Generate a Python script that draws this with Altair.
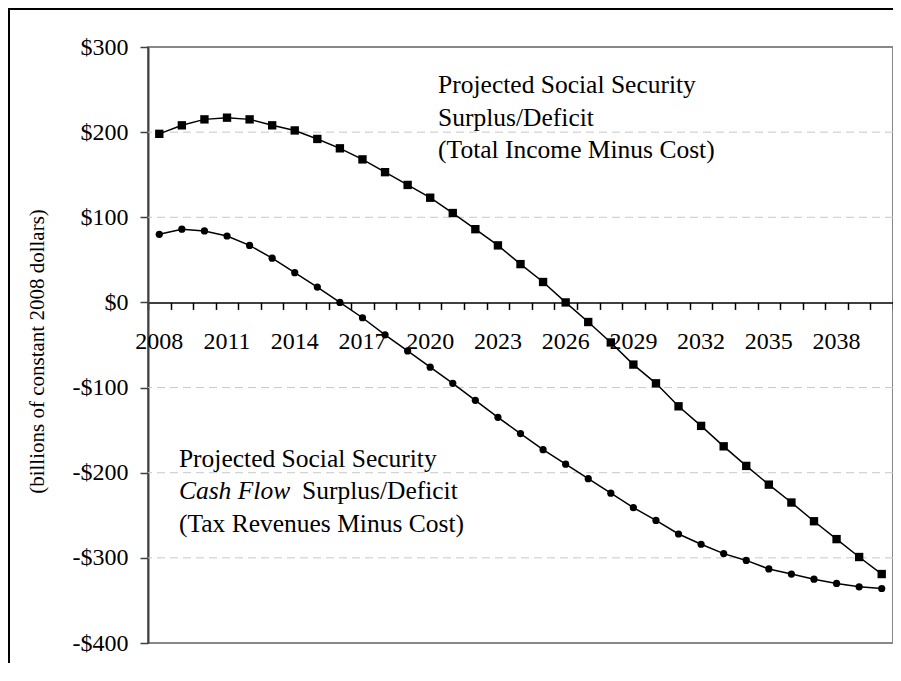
import altair as alt
import pandas as pd

# ---------------- data ----------------
years = list(range(2008, 2041))
total_income_minus_cost = [198, 208, 215, 217, 215, 208, 202, 192, 181, 168, 153,
                           138, 123, 105, 86, 67, 45, 24, 0, -23, -47, -73, -95,
                           -122, -145, -169, -192, -214, -235, -257, -278, -299, -319]
tax_revenues_minus_cost = [80, 86, 84, 78, 67, 52, 35, 18, 0, -18, -38, -57, -76,
                           -95, -115, -135, -154, -173, -190, -207, -224, -241, -256,
                           -272, -284, -295, -303, -313, -319, -325, -330, -334, -336]
y_ticks = [300, 200, 100, 0, -100, -200, -300, -400]
grid_values = [200, 100, -100, -200, -300]
x_label_years = [2008, 2011, 2014, 2017, 2020, 2023, 2026, 2029, 2032, 2035, 2038]
y_title = "(billions of constant 2008 dollars)"

upper_note = ["Projected Social Security", "Surplus/Deficit", "(Total Income Minus Cost)"]
lower_note_1 = "Projected Social Security"
lower_note_2_italic = "Cash Flow"
lower_note_2_rest = "Surplus/Deficit"
lower_note_3 = "(Tax Revenues Minus Cost)"

# ---------------- layout / style ----------------
FONT = "Times New Roman, Liberation Serif, serif"
W, H = 745, 596
Y_MIN, Y_MAX = -400, 300

x_scale = alt.Scale(domain=[years[0] - 0.5, years[-1] + 0.5], nice=False, zero=False)
y_scale = alt.Scale(domain=[Y_MIN, Y_MAX], nice=False, zero=False)
tick_bounds = [y - 0.5 for y in years] + [years[-1] + 0.5]
zero_offset = -H * (0 - Y_MIN) / (Y_MAX - Y_MIN)

X_ENC = alt.X(
    "year:Q", scale=x_scale,
    axis=alt.Axis(values=tick_bounds, labels=False, grid=False, title=None,
                  tickSize=7, tickColor="black", tickWidth=1.5,
                  domainColor="black", domainWidth=1.5, offset=zero_offset),
)
Y_ENC = alt.Y(
    "value:Q", scale=y_scale,
    axis=alt.Axis(
        values=y_ticks, grid=False,
        labelExpr="datum.value < 0 ? '-$' + format(-datum.value, 'd') : '$' + format(datum.value, 'd')",
        labelFont=FONT, labelFontSize=24, labelColor="black", labelPadding=12,
        tickSize=8, tickColor="#404040", tickWidth=1.5,
        domainColor="#404040", domainWidth=2,
        title=y_title, titleFont=FONT, titleFontSize=21, titleFontWeight="normal",
        titleColor="black", titleAngle=270, titleX=-111, titleY=304,
        titleAlign="center", titleBaseline="middle",
    ),
)

df_total = pd.DataFrame({"year": years, "value": total_income_minus_cost})
df_cash = pd.DataFrame({"year": years, "value": tax_revenues_minus_cost})
df_grid = pd.DataFrame({"value": grid_values})
df_xlab = pd.DataFrame({"year": x_label_years, "value": [0] * len(x_label_years),
                        "label": [str(y) for y in x_label_years]})

# annotation anchors (data coordinates)
df_note_regular = pd.DataFrame({
    "year": [2020.35, 2020.35, 2020.35, 2008.87, 2014.32, 2008.87],
    "value": [246, 207.2, 169.6, -192.9, -231.2, -269.3],
    "text": upper_note + [lower_note_1, lower_note_2_rest, lower_note_3],
})
df_note_italic = pd.DataFrame({"year": [2008.87], "value": [-231.2],
                               "text": [lower_note_2_italic]})

grid = alt.Chart(df_grid).mark_rule(color="#c8c8c8", strokeWidth=1,
                                    strokeDash=[8, 5]).encode(y=Y_ENC)

line_total = alt.Chart(df_total).mark_line(color="black", strokeWidth=1.5).encode(x=X_ENC, y=Y_ENC)
pts_total = alt.Chart(df_total).mark_point(shape="square", filled=True, color="black",
                                           size=70, opacity=1).encode(x=X_ENC, y=Y_ENC)
line_cash = alt.Chart(df_cash).mark_line(color="black", strokeWidth=1.5).encode(x=X_ENC, y=Y_ENC)
pts_cash = alt.Chart(df_cash).mark_point(shape="circle", filled=True, color="black",
                                         size=52, opacity=1).encode(x=X_ENC, y=Y_ENC)

xlabels = alt.Chart(df_xlab).mark_text(font=FONT, fontSize=24, color="black",
                                       baseline="alphabetic", align="center",
                                       dy=47).encode(x=X_ENC, y=Y_ENC, text="label:N")

notes = alt.Chart(df_note_regular).mark_text(font=FONT, fontSize=25.5, color="black",
                                             baseline="alphabetic", align="left").encode(
    x=X_ENC, y=Y_ENC, text="text:N")
notes_it = alt.Chart(df_note_italic).mark_text(font=FONT, fontSize=25.5, color="black",
                                               fontStyle="italic", baseline="alphabetic",
                                               align="left").encode(
    x=X_ENC, y=Y_ENC, text="text:N")

dummy = pd.DataFrame({"k": [0]})
frame_left = alt.Chart(dummy).mark_rule(color="black", strokeWidth=2).encode(
    x=alt.value(-139), y=alt.value(-38), y2=alt.value(H + 20))
frame_top = alt.Chart(dummy).mark_rule(color="black", strokeWidth=2).encode(
    x=alt.value(-140), x2=alt.value(W), y=alt.value(-38))

chart = alt.layer(
    grid, line_total, line_cash, pts_total, pts_cash, xlabels, notes, notes_it,
    frame_left, frame_top,
).properties(
    width=W, height=H,
    autosize=alt.AutoSizeParams(type="none"),
    padding={"left": 140, "top": 39, "right": 0, "bottom": 20},
    background="white",
).configure_view(
    stroke="#888888", strokeWidth=2, fill="white",
)

chart.save("out.html", embed_options={"renderer": "svg", "actions": False})
